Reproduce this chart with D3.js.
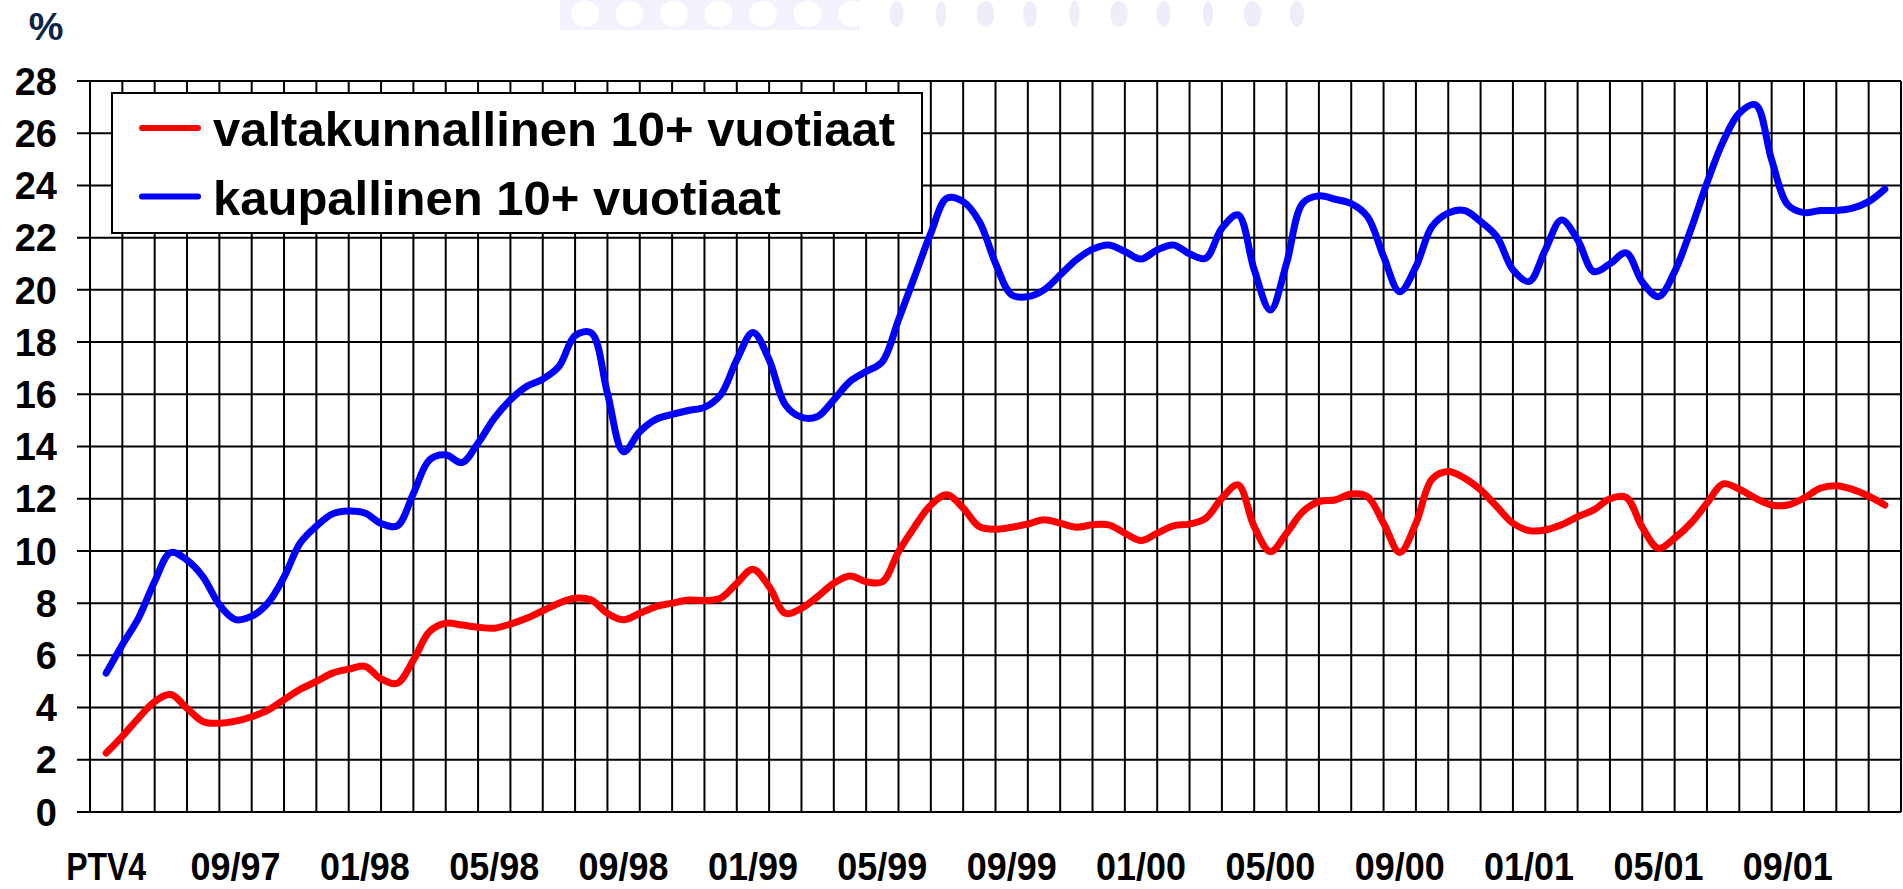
<!DOCTYPE html>
<html>
<head>
<meta charset="utf-8">
<script src="https://cdn.jsdelivr.net/npm/d3@7"></script>
<style>
  html, body { margin: 0; padding: 0; background: #fff; }
  svg { display: block; }
  text { font-family: "Liberation Sans", Arial, sans-serif; font-weight: bold; }
</style>
</head>
<body>
<svg id="chart" width="1903" height="889"></svg>
<script>
// ---- data ----
const months = ["05/97","06/97","07/97","08/97","09/97","10/97","11/97","12/97",
  "01/98","02/98","03/98","04/98","05/98","06/98","07/98","08/98","09/98","10/98","11/98","12/98",
  "01/99","02/99","03/99","04/99","05/99","06/99","07/99","08/99","09/99","10/99","11/99","12/99",
  "01/00","02/00","03/00","04/00","05/00","06/00","07/00","08/00","09/00","10/00","11/00","12/00",
  "01/01","02/01","03/01","04/01","05/01","06/01","07/01","08/01","09/01","10/01","11/01","12/01"];
const tickLabels = ["PTV4","09/97","01/98","05/98","09/98","01/99","05/99","09/99","01/00","05/00","09/00","01/01","05/01","09/01"];
const yTicks = [0,2,4,6,8,10,12,14,16,18,20,22,24,26,28];
const seriesNames = ["valtakunnallinen 10+ vuotiaat", "kaupallinen 10+ vuotiaat"];
// half-month readings, starting at first month
const valtakunnallinen = [
  2.26,2.9,3.6,4.23,4.5,3.97,3.46,3.4,3.48,3.65,3.9,4.3,4.7,5.0,5.32,5.47,5.58,5.1,
  4.93,5.82,6.91,7.23,7.16,7.08,7.04,7.2,7.42,7.71,8.0,8.19,8.12,7.61,7.36,7.61,7.87,8.0,
  8.12,8.1,8.19,8.76,9.3,8.63,7.61,7.8,8.25,8.76,9.04,8.82,8.82,9.97,10.93,11.76,12.15,11.64,
  10.93,10.83,10.91,11.03,11.19,11.06,10.91,11.0,11.0,10.68,10.4,10.68,10.96,11.03,11.25,12.02,12.53,10.93,
  9.97,10.68,11.5,11.89,11.95,12.18,12.08,11.06,9.94,11.06,12.75,13.04,12.79,12.34,11.7,11.06,10.78,10.8,
  11.0,11.31,11.57,12.0,12.05,10.9,10.1,10.49,11.06,11.83,12.57,12.36,12.02,11.76,11.76,12.02,12.4,12.5,
  12.36,12.1,11.76];
const kaupallinen = [
  5.32,6.41,7.43,8.83,9.94,9.65,9.0,7.94,7.37,7.5,8.0,9.0,10.3,10.95,11.42,11.53,11.45,11.05,
  10.96,12.2,13.49,13.68,13.38,14.13,15.08,15.79,16.3,16.58,17.06,18.25,18.35,16.04,13.8,14.57,15.04,15.23,
  15.38,15.5,15.98,17.32,18.37,17.32,15.6,15.12,15.15,15.79,16.49,16.87,17.25,18.85,20.51,22.17,23.51,23.38,
  22.62,21.02,19.81,19.74,20.0,20.57,21.15,21.56,21.72,21.47,21.18,21.53,21.72,21.38,21.21,22.36,22.87,20.77,
  19.23,21.02,23.32,23.6,23.47,23.3,22.81,21.28,19.93,20.89,22.43,22.94,23.04,22.62,22.04,20.77,20.32,21.53,
  22.68,21.92,20.7,21.0,21.42,20.3,19.74,20.7,22.3,24.09,25.68,26.77,27.09,24.98,23.26,22.96,23.04,23.04,
  23.13,23.38,23.86];
const colors = ["#ff0000", "#0000ff"];

(function () {
// ---- layout ----
const svg = d3.select("#chart");
const plotLeft = 90, plotRight = 1901, plotTop = 81, plotBottom = 812;

const x = d3.scaleBand().domain(months).range([plotLeft, plotRight]).paddingInner(0).paddingOuter(0);
const bw = x.bandwidth();
const xPos = d3.scaleLinear().domain([0, months.length]).range([plotLeft, plotRight]); // month-index position
const y = d3.scaleLinear().domain([0, 28]).range([plotBottom, plotTop]);

// faint decorative banner at top
const banner = svg.append("g");
banner.append("rect").attr("x", 560).attr("y", 0).attr("width", 300).attr("height", 30).attr("fill", "#f3f2fc");
d3.range(17).forEach(i => {
  const cx = 585 + i * 44.5;
  banner.append("ellipse").attr("cx", cx).attr("cy", 14).attr("rx", i < 7 ? 14 : 9 - (i % 3) * 2)
    .attr("ry", 13).attr("fill", i < 7 ? "#ffffff" : "#eeedf9");
});

// horizontal gridlines (with tick stubs)
svg.append("g").selectAll("line").data(yTicks).join("line")
  .attr("x1", plotLeft - 13).attr("x2", plotRight)
  .attr("y1", d => y(d)).attr("y2", d => y(d))
  .attr("stroke", "#000").attr("stroke-width", 2);

// vertical gridlines
const vlines = months.map(m => x(m)).concat([plotRight]);
svg.append("g").selectAll("line").data(vlines).join("line")
  .attr("x1", d => d).attr("x2", d => d)
  .attr("y1", plotTop).attr("y2", plotBottom)
  .attr("stroke", "#000").attr("stroke-width", 2);

// y tick labels
svg.append("g").selectAll("text").data(yTicks).join("text")
  .attr("x", 57).attr("y", d => y(d)).attr("dy", "0.36em")
  .attr("text-anchor", "end").attr("font-size", 38).attr("fill", "#000")
  .text(d => d);

// % label
svg.append("text").attr("x", 46).attr("y", 40).attr("text-anchor", "middle")
  .attr("font-size", 39).attr("fill", "#0b2448").text("%");

// x labels
svg.append("g").selectAll("text").data(tickLabels).join("text")
  .attr("x", (d, i) => x(months[i * 4]) + bw / 2)
  .attr("y", 880).attr("text-anchor", "middle")
  .attr("font-size", 38).attr("fill", "#000")
  .attr("textLength", d => d === "PTV4" ? 80 : 90).attr("lengthAdjust", "spacingAndGlyphs")
  .text(d => d);

// lines
const line = d3.line()
  .x((d, i) => xPos(i / 2 + 0.5))
  .y(d => y(d))
  .curve(d3.curveCatmullRom.alpha(0.5));

[valtakunnallinen, kaupallinen].forEach((s, k) => {
  svg.append("path").datum(s).attr("d", line)
    .attr("fill", "none").attr("stroke", colors[k]).attr("stroke-width", 7)
    .attr("stroke-linejoin", "round").attr("stroke-linecap", "round");
});

// legend
const lg = svg.append("g");
lg.append("rect").attr("x", 112).attr("y", 93).attr("width", 810).attr("height", 140)
  .attr("fill", "#fff").attr("stroke", "#000").attr("stroke-width", 2);
seriesNames.forEach((name, k) => {
  const ly = 128 + k * 68.5;
  lg.append("line").attr("x1", 142).attr("x2", 198).attr("y1", ly).attr("y2", ly)
    .attr("stroke", colors[k]).attr("stroke-width", 6).attr("stroke-linecap", "round");
  lg.append("text").attr("x", 213).attr("y", ly + 18).attr("font-size", 49)
    .attr("fill", "#000").text(name);
});
})();
</script>
</body>
</html>
